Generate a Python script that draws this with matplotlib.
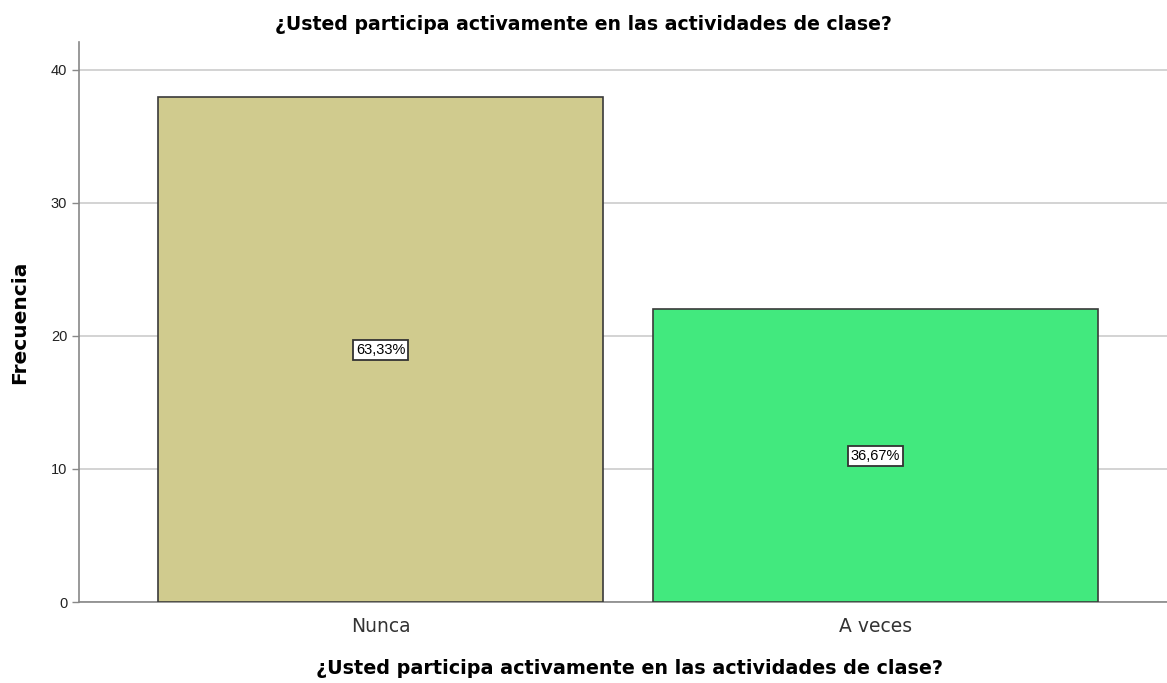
import matplotlib
matplotlib.use("Agg")
import matplotlib.pyplot as plt

categories = ["Nunca", "A veces"]
frequencies = [38, 22]
percent_labels = ["63,33%", "36,67%"]
bar_colors = ["#D0CB8E", "#42E97E"]
yticks = [0, 10, 20, 30, 40]
title = "¿Usted participa activamente en las actividades de clase?"

plt.rcParams['font.family'] = ['Liberation Sans', 'DejaVu Sans']
wide = ['DejaVu Sans']

fig = plt.figure(figsize=(11.67, 6.83), dpi=100)
ax = fig.add_axes([79/1167, 81/683, 1 - 79/1167, 560/683])

x = list(range(len(categories)))
ax.set_axisbelow(True)
ax.bar(x, frequencies, width=0.9, color=bar_colors, edgecolor="#3a3a3a", linewidth=1.2, zorder=3)
for xi, v, lab in zip(x, frequencies, percent_labels):
    ax.text(xi, v / 2 - 0.05, lab, ha="center", va="center", fontsize=10.5, zorder=4,
            bbox=dict(boxstyle="square,pad=0.2", fc="white", ec="#333333", lw=1.3))

ax.set_xlim(-0.61, 1.59)
ax.set_ylim(0, 42.1)
ax.set_yticks(yticks)
ax.yaxis.grid(True, color="#cccccc", linewidth=1.2)
ax.set_xticks(x)
ax.set_xticklabels(categories, fontsize=13.5, color="#333333", family=wide)
ax.tick_params(axis="y", labelsize=10.5, length=5, color="#888888", width=1, labelcolor="#222222")
ax.tick_params(axis="x", length=0, pad=11)
for s in ["top", "right"]:
    ax.spines[s].set_visible(False)
for s in ["left", "bottom"]:
    ax.spines[s].set_color("#888888")
    ax.spines[s].set_linewidth(1.2)

ax.set_ylabel("Frecuencia", fontsize=14.5, fontweight="bold", family=wide)
ax.yaxis.set_label_coords(-50/1088, 0.5)
ax.set_xlabel(title, fontsize=13.75, fontweight="bold", family=wide)
ax.xaxis.set_label_coords((629 - 79)/1088, -57/560)
fig.text(583/1167, 1 - 24/683, title, ha="center", va="center", fontsize=13.6, fontweight="bold", family=wide)
fig.savefig("out.png", dpi=100)
